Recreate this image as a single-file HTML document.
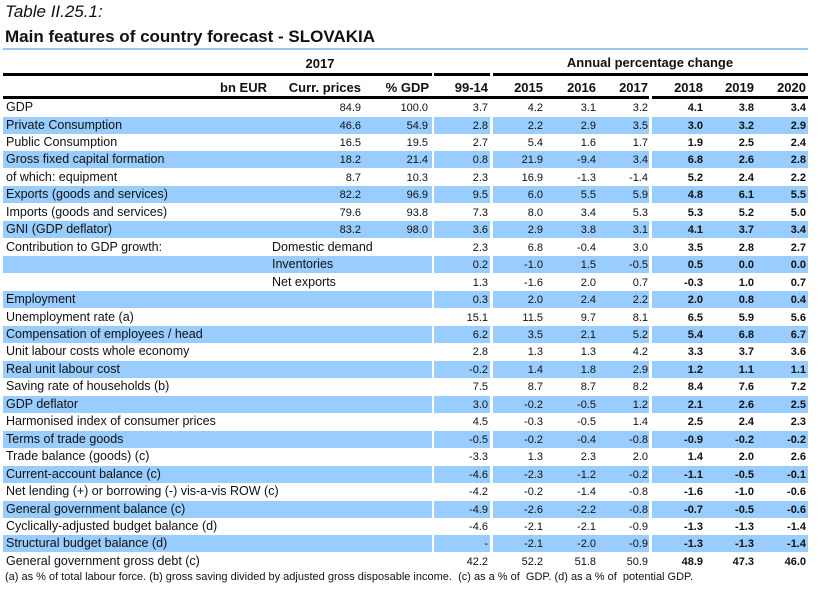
<!DOCTYPE html>
<html><head><meta charset="utf-8"><style>
body{margin:0;width:817px;height:591px;background:#fff;position:relative;font-family:"Liberation Sans",sans-serif;color:#111;overflow:hidden}
.a{position:absolute}
.r{position:absolute;left:0;width:817px;height:17px;font-size:12.5px;line-height:17px}
.bg{position:absolute;top:0;height:17px;background:#99ccff}
.l{position:absolute;left:6px;white-space:nowrap}
.m{position:absolute;left:272px;white-space:nowrap}
.v{position:absolute;text-align:right;font-size:11px;top:1px}
.c1{left:300px;width:61px}.c2{left:370px;width:58px}.c3{left:440px;width:48px}.c4{left:495px;width:48px}.c5{left:550px;width:46px}.c6{left:600px;width:48px}.c7{left:655px;width:48px;font-weight:bold}.c8{left:706px;width:48px;font-weight:bold}.c9{left:760px;width:46px;font-weight:bold}
.h{position:absolute;font-weight:bold;font-size:13px;text-align:right}
.line{position:absolute;background:#000;height:3px}
</style></head><body>
<div class="a" style="left:5px;top:2px;font-size:17px;font-style:italic">Table II.25.1:</div>
<div class="a" style="left:5px;top:27px;font-size:17px;font-weight:bold">Main features of country forecast - SLOVAKIA</div>
<div class="a" style="left:3px;top:48px;width:805px;height:2px;background:#9cc8f0"></div>
<div class="h" style="left:290px;top:56px;width:60px;text-align:center">2017</div>
<div class="h" style="left:540px;top:55px;width:220px;text-align:center">Annual percentage change</div>
<div class="line" style="left:3px;top:73px;width:429px"></div>
<div class="line" style="left:434px;top:73px;width:56px"></div>
<div class="line" style="left:493px;top:73px;width:315px"></div>
<div class="h" style="left:200px;top:80px;width:67px">bn EUR</div>
<div class="h" style="left:280px;top:80px;width:81px">Curr. prices</div>
<div class="h" style="left:370px;top:80px;width:59px">% GDP</div>
<div class="h" style="left:440px;top:80px;width:48px">99-14</div>
<div class="h" style="left:495px;top:80px;width:48px">2015</div>
<div class="h" style="left:550px;top:80px;width:46px">2016</div>
<div class="h" style="left:600px;top:80px;width:48px">2017</div>
<div class="h" style="left:655px;top:80px;width:48px">2018</div>
<div class="h" style="left:706px;top:80px;width:48px">2019</div>
<div class="h" style="left:760px;top:80px;width:46px">2020</div>
<div class="line" style="left:3px;top:96px;width:646px"></div>
<div class="line" style="left:652px;top:96px;width:156px"></div>

<div class="r" style="top:99px"><span class="l">GDP</span><span class="v c1">84.9</span><span class="v c2">100.0</span><span class="v c3">3.7</span><span class="v c4">4.2</span><span class="v c5">3.1</span><span class="v c6">3.2</span><span class="v c7">4.1</span><span class="v c8">3.8</span><span class="v c9">3.4</span></div>
<div class="r" style="top:116.5px"><div class="bg" style="left:3px;width:429px"></div><div class="bg" style="left:434px;width:56px"></div><div class="bg" style="left:493px;width:156px"></div><div class="bg" style="left:652px;width:156px"></div><span class="l">Private Consumption</span><span class="v c1">46.6</span><span class="v c2">54.9</span><span class="v c3">2.8</span><span class="v c4">2.2</span><span class="v c5">2.9</span><span class="v c6">3.5</span><span class="v c7">3.0</span><span class="v c8">3.2</span><span class="v c9">2.9</span></div>
<div class="r" style="top:133.9px"><span class="l">Public Consumption</span><span class="v c1">16.5</span><span class="v c2">19.5</span><span class="v c3">2.7</span><span class="v c4">5.4</span><span class="v c5">1.6</span><span class="v c6">1.7</span><span class="v c7">1.9</span><span class="v c8">2.5</span><span class="v c9">2.4</span></div>
<div class="r" style="top:151.4px"><div class="bg" style="left:3px;width:429px"></div><div class="bg" style="left:434px;width:56px"></div><div class="bg" style="left:493px;width:156px"></div><div class="bg" style="left:652px;width:156px"></div><span class="l">Gross fixed capital formation</span><span class="v c1">18.2</span><span class="v c2">21.4</span><span class="v c3">0.8</span><span class="v c4">21.9</span><span class="v c5">-9.4</span><span class="v c6">3.4</span><span class="v c7">6.8</span><span class="v c8">2.6</span><span class="v c9">2.8</span></div>
<div class="r" style="top:168.8px"><span class="l">of which: equipment</span><span class="v c1">8.7</span><span class="v c2">10.3</span><span class="v c3">2.3</span><span class="v c4">16.9</span><span class="v c5">-1.3</span><span class="v c6">-1.4</span><span class="v c7">5.2</span><span class="v c8">2.4</span><span class="v c9">2.2</span></div>
<div class="r" style="top:186.3px"><div class="bg" style="left:3px;width:429px"></div><div class="bg" style="left:434px;width:56px"></div><div class="bg" style="left:493px;width:156px"></div><div class="bg" style="left:652px;width:156px"></div><span class="l">Exports (goods and services)</span><span class="v c1">82.2</span><span class="v c2">96.9</span><span class="v c3">9.5</span><span class="v c4">6.0</span><span class="v c5">5.5</span><span class="v c6">5.9</span><span class="v c7">4.8</span><span class="v c8">6.1</span><span class="v c9">5.5</span></div>
<div class="r" style="top:203.8px"><span class="l">Imports (goods and services)</span><span class="v c1">79.6</span><span class="v c2">93.8</span><span class="v c3">7.3</span><span class="v c4">8.0</span><span class="v c5">3.4</span><span class="v c6">5.3</span><span class="v c7">5.3</span><span class="v c8">5.2</span><span class="v c9">5.0</span></div>
<div class="r" style="top:221.2px"><div class="bg" style="left:3px;width:429px"></div><div class="bg" style="left:434px;width:56px"></div><div class="bg" style="left:493px;width:156px"></div><div class="bg" style="left:652px;width:156px"></div><span class="l">GNI (GDP deflator)</span><span class="v c1">83.2</span><span class="v c2">98.0</span><span class="v c3">3.6</span><span class="v c4">2.9</span><span class="v c5">3.8</span><span class="v c6">3.1</span><span class="v c7">4.1</span><span class="v c8">3.7</span><span class="v c9">3.4</span></div>
<div class="r" style="top:238.7px"><span class="l">Contribution to GDP growth:</span><span class="m">Domestic demand</span><span class="v c3">2.3</span><span class="v c4">6.8</span><span class="v c5">-0.4</span><span class="v c6">3.0</span><span class="v c7">3.5</span><span class="v c8">2.8</span><span class="v c9">2.7</span></div>
<div class="r" style="top:256.1px"><div class="bg" style="left:3px;width:429px"></div><div class="bg" style="left:434px;width:56px"></div><div class="bg" style="left:493px;width:156px"></div><div class="bg" style="left:652px;width:156px"></div><span class="m">Inventories</span><span class="v c3">0.2</span><span class="v c4">-1.0</span><span class="v c5">1.5</span><span class="v c6">-0.5</span><span class="v c7">0.5</span><span class="v c8">0.0</span><span class="v c9">0.0</span></div>
<div class="r" style="top:273.6px"><span class="m">Net exports</span><span class="v c3">1.3</span><span class="v c4">-1.6</span><span class="v c5">2.0</span><span class="v c6">0.7</span><span class="v c7">-0.3</span><span class="v c8">1.0</span><span class="v c9">0.7</span></div>
<div class="r" style="top:291px"><div class="bg" style="left:3px;width:429px"></div><div class="bg" style="left:434px;width:56px"></div><div class="bg" style="left:493px;width:156px"></div><div class="bg" style="left:652px;width:156px"></div><span class="l">Employment</span><span class="v c3">0.3</span><span class="v c4">2.0</span><span class="v c5">2.4</span><span class="v c6">2.2</span><span class="v c7">2.0</span><span class="v c8">0.8</span><span class="v c9">0.4</span></div>
<div class="r" style="top:308.5px"><span class="l">Unemployment rate (a)</span><span class="v c3">15.1</span><span class="v c4">11.5</span><span class="v c5">9.7</span><span class="v c6">8.1</span><span class="v c7">6.5</span><span class="v c8">5.9</span><span class="v c9">5.6</span></div>
<div class="r" style="top:326px"><div class="bg" style="left:3px;width:429px"></div><div class="bg" style="left:434px;width:56px"></div><div class="bg" style="left:493px;width:156px"></div><div class="bg" style="left:652px;width:156px"></div><span class="l">Compensation of employees / head</span><span class="v c3">6.2</span><span class="v c4">3.5</span><span class="v c5">2.1</span><span class="v c6">5.2</span><span class="v c7">5.4</span><span class="v c8">6.8</span><span class="v c9">6.7</span></div>
<div class="r" style="top:343.4px"><span class="l">Unit labour costs whole economy</span><span class="v c3">2.8</span><span class="v c4">1.3</span><span class="v c5">1.3</span><span class="v c6">4.2</span><span class="v c7">3.3</span><span class="v c8">3.7</span><span class="v c9">3.6</span></div>
<div class="r" style="top:360.9px"><div class="bg" style="left:3px;width:429px"></div><div class="bg" style="left:434px;width:56px"></div><div class="bg" style="left:493px;width:156px"></div><div class="bg" style="left:652px;width:156px"></div><span class="l">Real unit labour cost</span><span class="v c3">-0.2</span><span class="v c4">1.4</span><span class="v c5">1.8</span><span class="v c6">2.9</span><span class="v c7">1.2</span><span class="v c8">1.1</span><span class="v c9">1.1</span></div>
<div class="r" style="top:378.3px"><span class="l">Saving rate of households (b)</span><span class="v c3">7.5</span><span class="v c4">8.7</span><span class="v c5">8.7</span><span class="v c6">8.2</span><span class="v c7">8.4</span><span class="v c8">7.6</span><span class="v c9">7.2</span></div>
<div class="r" style="top:395.8px"><div class="bg" style="left:3px;width:429px"></div><div class="bg" style="left:434px;width:56px"></div><div class="bg" style="left:493px;width:156px"></div><div class="bg" style="left:652px;width:156px"></div><span class="l">GDP deflator</span><span class="v c3">3.0</span><span class="v c4">-0.2</span><span class="v c5">-0.5</span><span class="v c6">1.2</span><span class="v c7">2.1</span><span class="v c8">2.6</span><span class="v c9">2.5</span></div>
<div class="r" style="top:413.2px"><span class="l">Harmonised index of consumer prices</span><span class="v c3">4.5</span><span class="v c4">-0.3</span><span class="v c5">-0.5</span><span class="v c6">1.4</span><span class="v c7">2.5</span><span class="v c8">2.4</span><span class="v c9">2.3</span></div>
<div class="r" style="top:430.7px"><div class="bg" style="left:3px;width:429px"></div><div class="bg" style="left:434px;width:56px"></div><div class="bg" style="left:493px;width:156px"></div><div class="bg" style="left:652px;width:156px"></div><span class="l">Terms of trade goods</span><span class="v c3">-0.5</span><span class="v c4">-0.2</span><span class="v c5">-0.4</span><span class="v c6">-0.8</span><span class="v c7">-0.9</span><span class="v c8">-0.2</span><span class="v c9">-0.2</span></div>
<div class="r" style="top:448.2px"><span class="l">Trade balance (goods) (c)</span><span class="v c3">-3.3</span><span class="v c4">1.3</span><span class="v c5">2.3</span><span class="v c6">2.0</span><span class="v c7">1.4</span><span class="v c8">2.0</span><span class="v c9">2.6</span></div>
<div class="r" style="top:465.6px"><div class="bg" style="left:3px;width:429px"></div><div class="bg" style="left:434px;width:56px"></div><div class="bg" style="left:493px;width:156px"></div><div class="bg" style="left:652px;width:156px"></div><span class="l">Current-account balance (c)</span><span class="v c3">-4.6</span><span class="v c4">-2.3</span><span class="v c5">-1.2</span><span class="v c6">-0.2</span><span class="v c7">-1.1</span><span class="v c8">-0.5</span><span class="v c9">-0.1</span></div>
<div class="r" style="top:483.1px"><span class="l">Net lending (+) or borrowing (-) vis-a-vis ROW (c)</span><span class="v c3">-4.2</span><span class="v c4">-0.2</span><span class="v c5">-1.4</span><span class="v c6">-0.8</span><span class="v c7">-1.6</span><span class="v c8">-1.0</span><span class="v c9">-0.6</span></div>
<div class="r" style="top:500.5px"><div class="bg" style="left:3px;width:429px"></div><div class="bg" style="left:434px;width:56px"></div><div class="bg" style="left:493px;width:156px"></div><div class="bg" style="left:652px;width:156px"></div><span class="l">General government balance (c)</span><span class="v c3">-4.9</span><span class="v c4">-2.6</span><span class="v c5">-2.2</span><span class="v c6">-0.8</span><span class="v c7">-0.7</span><span class="v c8">-0.5</span><span class="v c9">-0.6</span></div>
<div class="r" style="top:518px"><span class="l">Cyclically-adjusted budget balance (d)</span><span class="v c3">-4.6</span><span class="v c4">-2.1</span><span class="v c5">-2.1</span><span class="v c6">-0.9</span><span class="v c7">-1.3</span><span class="v c8">-1.3</span><span class="v c9">-1.4</span></div>
<div class="r" style="top:535.4px"><div class="bg" style="left:3px;width:429px"></div><div class="bg" style="left:434px;width:56px"></div><div class="bg" style="left:493px;width:156px"></div><div class="bg" style="left:652px;width:156px"></div><span class="l">Structural budget balance (d)</span><span class="v c3">-</span><span class="v c4">-2.1</span><span class="v c5">-2.0</span><span class="v c6">-0.9</span><span class="v c7">-1.3</span><span class="v c8">-1.3</span><span class="v c9">-1.4</span></div>
<div class="r" style="top:552.9px"><span class="l">General government gross debt (c)</span><span class="v c3">42.2</span><span class="v c4">52.2</span><span class="v c5">51.8</span><span class="v c6">50.9</span><span class="v c7">48.9</span><span class="v c8">47.3</span><span class="v c9">46.0</span></div>
<div class="a" style="left:5px;top:571px;font-size:11px;white-space:nowrap">(a) as % of total labour force. (b) gross saving divided by adjusted gross disposable income.&nbsp; (c) as a % of&nbsp; GDP. (d) as a % of&nbsp; potential GDP.</div>
</body></html>
